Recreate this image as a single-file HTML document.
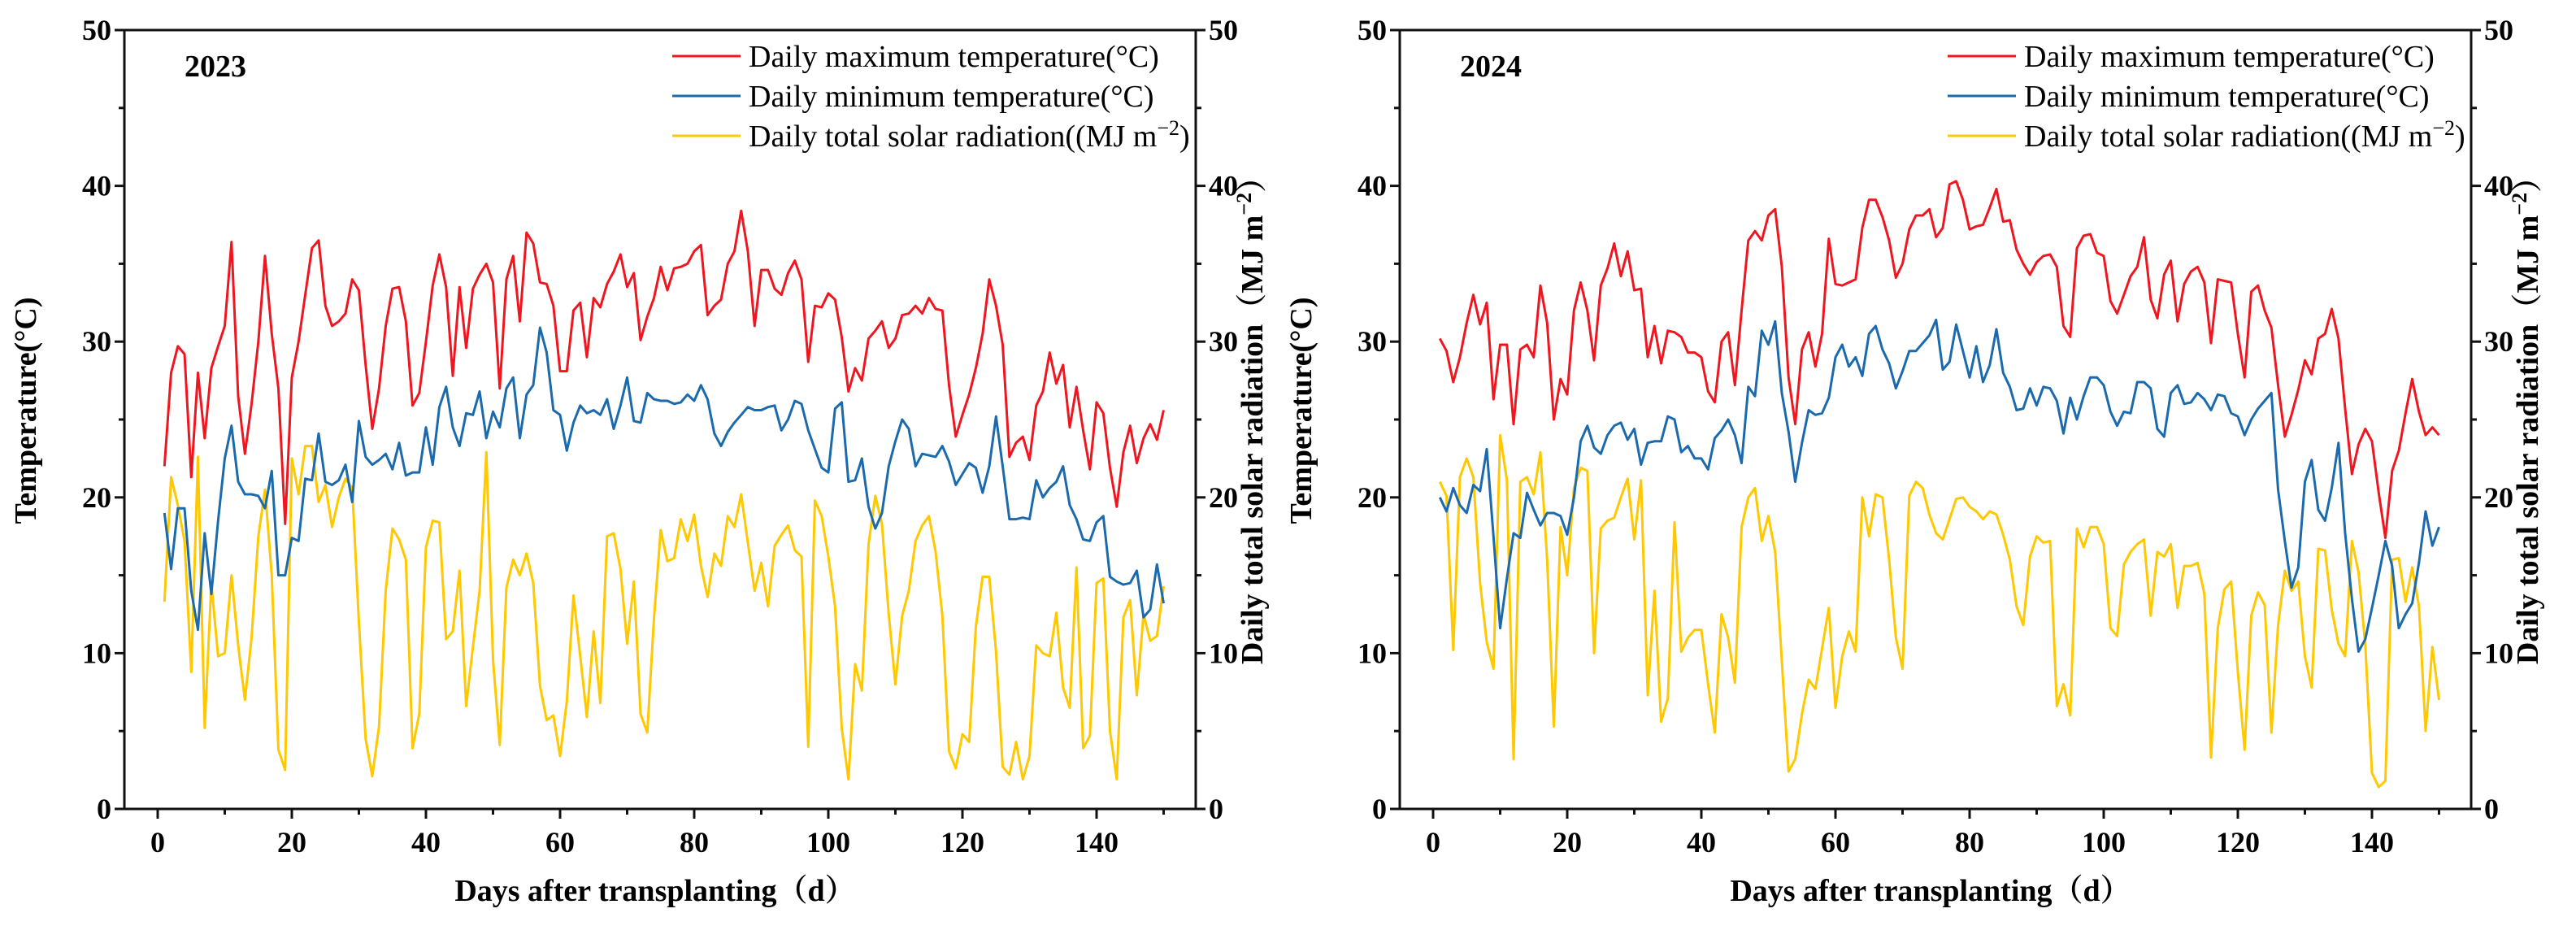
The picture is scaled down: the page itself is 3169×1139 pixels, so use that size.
<!DOCTYPE html>
<html><head><meta charset="utf-8">
<style>
html,body{margin:0;padding:0;background:#fff;}
svg{display:block;}
text{font-family:"Liberation Serif","Noto Serif CJK SC",serif;}
</style></head>
<body>
<svg id="chart" xmlns="http://www.w3.org/2000/svg" width="3169" height="1139" viewBox="0 0 3169 1139"></svg>
<script>
const days = Array.from({length:150},(_,i)=>i+1);
const xTicks = [0,20,40,60,80,100,120,140];
const yTicks = [0,10,20,30,40,50];
const max2023 = [22,28,29.7,29.2,21.3,28,23.8,28.3,29.7,31,
36.4,26.5,22.8,26,30,35.5,30.5,27,18.3,27.7,
30,33,36,36.5,32.3,31,31.3,31.8,34,33.3,
28.5,24.4,27,31,33.4,33.5,31.3,25.9,26.7,30,
33.6,35.6,33.5,27.8,33.5,29.6,33.4,34.3,35,33.8,
27,34,35.5,31.3,37,36.3,33.8,33.7,32.3,28.1,
28.1,32,32.5,29,32.8,32.2,33.7,34.5,35.6,33.5,
34.4,30.1,31.6,32.8,34.8,33.3,34.7,34.8,35,35.8,
36.2,31.7,32.3,32.7,35,35.8,38.4,35.8,31,34.6,
34.6,33.4,33,34.4,35.2,34,28.7,32.3,32.2,33.1,
32.7,30.3,26.8,28.3,27.5,30.2,30.7,31.3,29.6,30.2,
31.7,31.8,32.3,31.8,32.8,32.1,32,27.2,23.9,25.3,
26.6,28.3,30.5,34,32.3,29.8,22.6,23.5,23.9,22.4,
25.9,26.8,29.3,27.3,28.5,24.5,27.1,24.3,21.8,26.1,
25.4,21.9,19.4,22.9,24.6,22.2,23.8,24.7,23.7,25.6];
const min2023 = [19,15.4,19.3,19.3,14,11.5,17.7,13.8,18.5,22.5,
24.6,21,20.2,20.2,20.1,19.3,21.7,15,15,17.4,
17.2,21.2,21.1,24.1,21,20.8,21.1,22.1,19.7,24.9,
22.6,22.1,22.4,22.8,21.8,23.5,21.4,21.6,21.6,24.5,
22.1,25.8,27.1,24.5,23.3,25.4,25.3,26.8,23.8,25.5,
24.5,27,27.7,23.8,26.6,27.2,30.9,29.3,25.6,25.3,
23,24.8,25.9,25.4,25.6,25.3,26.3,24.4,25.9,27.7,
24.9,24.8,26.7,26.3,26.2,26.2,26,26.1,26.6,26.2,
27.2,26.3,24.1,23.3,24.2,24.8,25.3,25.8,25.6,25.6,
25.8,25.9,24.3,25,26.2,26,24.3,23.1,21.9,21.6,
25.7,26.1,21,21.1,22.5,19.4,18,19,22,23.6,
25,24.4,22,22.8,22.7,22.6,23.3,22.3,20.8,21.5,
22.2,21.9,20.3,22,25.2,22,18.6,18.6,18.7,18.6,
21.1,20,20.6,21,22,19.5,18.6,17.3,17.2,18.4,
18.8,14.9,14.6,14.4,14.5,15.3,12.3,12.8,15.7,13.2];
const sol2023 = [13.3,21.3,19.5,17.2,8.8,22.6,5.2,14.5,9.8,10,
15,10.5,7,11,17.5,20.5,15,3.8,2.5,22.5,
20.2,23.3,23.3,19.7,20.8,18.1,20,21.2,20.6,12,
4.5,2.1,5.3,14,18,17.3,16,3.9,6.1,16.8,
18.5,18.4,10.9,11.4,15.3,6.6,10.4,14,22.9,9.6,
4.1,14.2,16,15,16.4,14.5,7.9,5.7,6,3.4,
6.9,13.7,9.8,5.9,11.4,6.8,17.5,17.7,15.4,10.6,
14.6,6.1,4.9,12.2,17.9,15.9,16.1,18.6,17.2,18.9,
15.6,13.6,16.4,15.6,18.8,18.1,20.2,17.1,14,15.8,
13,16.9,17.6,18.2,16.6,16.2,4,19.8,18.8,16.2,
13,5.2,1.9,9.3,7.6,17,20.1,18.3,12.5,8,
12.4,14,17.2,18.2,18.8,16.5,12.4,3.7,2.6,4.8,
4.3,11.7,14.9,14.9,10.1,2.7,2.2,4.3,1.9,3.4,
10.5,10,9.8,12.6,7.8,6.5,15.5,3.9,4.7,14.5,
14.8,5,1.9,12.3,13.4,7.3,12.5,10.8,11.1,14.3];
const max2024 = [30.2,29.4,27.4,29,31.2,33,31.1,32.5,26.3,29.8,
29.8,24.7,29.5,29.8,29,33.6,31.2,25,27.6,26.6,
32,33.8,32,28.8,33.6,34.7,36.3,34.2,35.8,33.3,
33.4,29,31,28.6,30.7,30.6,30.3,29.3,29.3,29,
26.8,26.1,30,30.6,27.2,32,36.5,37.1,36.5,38.1,
38.5,34.8,27.7,24.7,29.5,30.6,28.4,30.5,36.6,33.7,
33.6,33.8,34,37.3,39.1,39.1,38,36.5,34.1,35,
37.2,38.1,38.1,38.5,36.7,37.3,40.1,40.3,39.1,37.2,
37.4,37.5,38.6,39.8,37.7,37.8,35.9,35,34.3,35.1,
35.5,35.6,34.8,31,30.3,36,36.8,36.9,35.7,35.5,
32.6,31.8,33,34.2,34.8,36.7,32.7,31.5,34.3,35.2,
31.3,33.7,34.5,34.8,33.8,29.9,34,33.9,33.8,30.5,
27.7,33.2,33.6,32,30.9,27.2,23.9,25.3,26.9,28.8,
27.9,30.2,30.5,32.1,30.2,25.7,21.5,23.4,24.4,23.6,
20.3,17.4,21.7,23,25.4,27.6,25.5,24,24.5,24];
const min2024 = [20,19.1,20.6,19.5,19,20.8,20.4,23.1,17.5,11.6,
14.8,17.7,17.4,20.3,19.2,18.2,19,19,18.8,17.6,
20,23.6,24.6,23.2,22.8,24,24.6,24.8,23.7,24.4,
22.1,23.5,23.6,23.6,25.2,25,22.9,23.3,22.5,22.5,
21.8,23.8,24.3,25,24,22.2,27.1,26.5,30.7,29.8,
31.3,26.7,24.2,21,23.5,25.6,25.3,25.4,26.4,29,
29.8,28.4,29,27.8,30.5,31,29.5,28.6,27,28.1,
29.4,29.4,29.9,30.4,31.4,28.2,28.7,31.1,29.4,27.7,
29.7,27.4,28.5,30.8,28,27.1,25.6,25.7,27,25.9,
27.1,27,26.2,24.1,26.4,25,26.5,27.7,27.7,27.2,
25.5,24.6,25.5,25.4,27.4,27.4,27,24.4,23.9,26.7,
27.2,26,26.1,26.7,26.3,25.6,26.6,26.5,25.4,25.2,
24,25,25.7,26.2,26.7,20.5,17.2,14.2,15.5,21,
22.4,19.2,18.5,20.6,23.5,17.7,13.5,10.1,10.9,12.9,
15,17.2,15.6,11.6,12.5,13.2,15.8,19.1,16.9,18.1];
const sol2024 = [21,20.1,10.2,21.3,22.5,21.3,14.5,10.7,9,24,
21.1,3.2,21,21.3,20.2,22.9,16,5.3,18.1,15,
20.6,21.9,21.7,10,18,18.5,18.7,20,21.2,17.3,
21.1,7.3,14,5.6,7.1,18.4,10.1,11,11.5,11.5,
8,4.9,12.5,11,8.1,18.1,20,20.6,17.2,18.8,
16.5,9.5,2.4,3.2,6.1,8.3,7.7,10.3,12.9,6.5,
9.8,11.4,10.1,20,17.5,20.2,20,16,11,9,
20.1,21,20.6,18.9,17.7,17.3,18.6,19.9,20,19.4,
19.1,18.6,19.1,18.9,17.6,16,13,11.8,16.2,17.5,
17.1,17.2,6.6,8,6,18,16.8,18.1,18.1,17,
11.6,11.1,15.7,16.5,17,17.3,12.4,16.5,16.2,17,
12.9,15.6,15.6,15.8,13.8,3.3,11.6,14.1,14.6,8.8,
3.8,12.4,13.9,13.1,4.9,11.8,15.3,14,14.6,9.8,
7.8,16.7,16.6,12.8,10.6,9.8,17.2,15.2,10.5,2.3,
1.4,1.8,16,16.1,13.3,15.5,13,5,10.4,7];

const NS = "http://www.w3.org/2000/svg";
const svg = document.getElementById('chart');
function mk(tag, attrs, parent){
  const e = document.createElementNS(NS, tag);
  for (const k in attrs) e.setAttribute(k, attrs[k]);
  (parent||svg).appendChild(e);
  return e;
}
const TOP = 37, BOT = 995;
function drawPanel(off, year, maxT, minT, sol, key){
  const L = 153+off, R = 1471+off, X0 = 194+off, PX = 8.25;
  const xs = d => X0 + d*PX;
  const ys = v => BOT - v*(BOT-TOP)/50;
  const g = mk('g', {});
  
  
  const frame = mk('rect', {x:L, y:TOP, width:R-L, height:BOT-TOP, fill:'none', stroke:'#111', 'stroke-width':3}, g);
  
  
  // y ticks
  for (let v=0; v<=50; v+=5){
    const major = v%10===0, len = major?12:7, y = ys(v);
    mk('line',{x1:L-len,x2:L,y1:y,y2:y,stroke:'#111','stroke-width':3},g);
    mk('line',{x1:R,x2:R+len,y1:y,y2:y,stroke:'#111','stroke-width':3},g);
  }
  yTicks.forEach(v=>{
    const t1 = mk('text',{x:L-16,y:ys(v)+12,'text-anchor':'end','font-size':36,'font-weight':'bold'},g);
    t1.textContent = v;
    
    
    const t2 = mk('text',{x:R+16,y:ys(v)+12,'text-anchor':'start','font-size':36,'font-weight':'bold'},g);
    t2.textContent = v;
    
    
  });
  for (let d=0; d<=150; d+=10){
    const major = d%20===0, len = major?12:7;
    mk('line',{x1:xs(d),x2:xs(d),y1:BOT,y2:BOT+len,stroke:'#111','stroke-width':3},g);
  }
  xTicks.forEach(d=>{
    const t = mk('text',{x:xs(d),y:1048,'text-anchor':'middle','font-size':36,'font-weight':'bold'},g);
    t.textContent = d;
    
    
  });
  const series = [[sol,'#ffc800','solar-radiation-line'],[minT,'#1a6aad','min-temperature-line'],[maxT,'#f01620','max-temperature-line']];
  series.forEach(([arr,col,name])=>{
    const pts = arr.map((v,i)=>xs(days[i]).toFixed(1)+','+ys(v).toFixed(1)).join(' ');
    const p = mk('polyline',{points:pts,fill:'none',stroke:col,'stroke-width':3,'stroke-linejoin':'round'},g);
    
    
  });
  const yr = mk('text',{x:L+74,y:94,'font-size':38,'font-weight':'bold'},g);
  yr.textContent = year;
  
  
  const legItems = [['#f01620','Daily maximum temperature(°C)',''],['#1a6aad','Daily minimum temperature(°C)',''],['#ffc800','Daily total solar radiation((MJ m','sup']];
  legItems.forEach((it,i)=>{
    const y = 69 + i*49;
    const ln = mk('line',{x1:827+off,x2:911+off,y1:y,y2:y,stroke:it[0],'stroke-width':3},g);
    
    
    const t = mk('text',{x:921+off,y:y+13,'font-size':38},g);
    
    
    if (it[2]){
      t.appendChild(document.createTextNode(it[1]));
      const s = document.createElementNS(NS,'tspan');
      s.setAttribute('dy','-14'); s.setAttribute('font-size','26'); s.textContent='−2';
      t.appendChild(s);
      const s2 = document.createElementNS(NS,'tspan');
      s2.setAttribute('dy','14'); s2.textContent=')';
      t.appendChild(s2);
    } else t.textContent = it[1];
  });
  const xt = mk('text',{x:806+off,y:1108,'text-anchor':'middle','font-size':38,'font-weight':'bold'},g);
  xt.textContent = 'Days after transplanting（d）';
  
  
  const yl = mk('text',{x:0,y:0,'text-anchor':'middle','font-size':38,'font-weight':'bold',transform:`translate(${44+off},505) rotate(-90)`},g);
  yl.textContent = 'Temperature(°C)';
  
  
  const yr2 = mk('text',{x:0,y:0,'text-anchor':'middle','font-size':38,'font-weight':'bold',transform:`translate(${1553+off},508) rotate(-90)`},g);
  
  
  yr2.appendChild(document.createTextNode('Daily total solar radiation（MJ m'));
  const sp = document.createElementNS(NS,'tspan');
  sp.setAttribute('dy','-14'); sp.setAttribute('font-size','26'); sp.textContent='−2';
  yr2.appendChild(sp);
  const sp2 = document.createElementNS(NS,'tspan');
  sp2.setAttribute('dy','14'); sp2.textContent='）';
  yr2.appendChild(sp2);
}
drawPanel(0,'2023',max2023,min2023,sol2023,'2023');
drawPanel(1569,'2024',max2024,min2024,sol2024,'2024');
</script>
</body></html>
